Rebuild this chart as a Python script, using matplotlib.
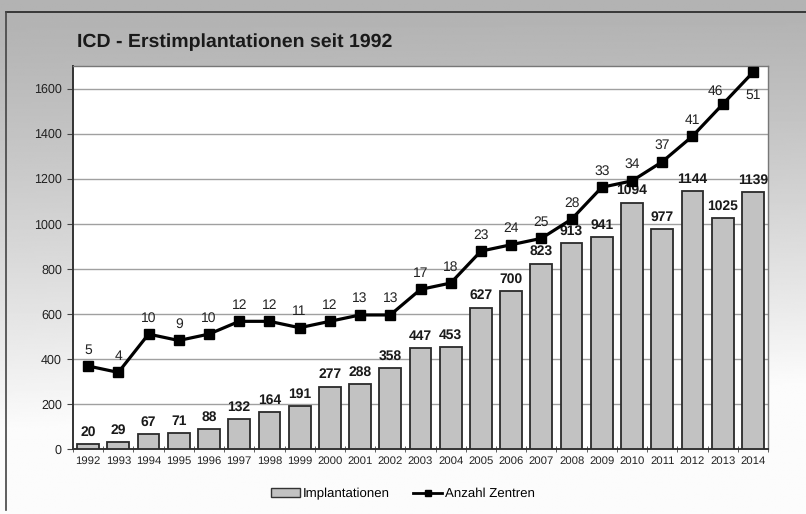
import numpy as np
import matplotlib
matplotlib.use("Agg")
import matplotlib.pyplot as plt
from matplotlib.lines import Line2D
from matplotlib.patches import Patch

years = ["1992", "1993", "1994", "1995", "1996", "1997", "1998", "1999", "2000",
         "2001", "2002", "2003", "2004", "2005", "2006", "2007", "2008", "2009",
         "2010", "2011", "2012", "2013", "2014"]
implantationen = [20, 29, 67, 71, 88, 132, 164, 191, 277, 288, 358, 447, 453,
                  627, 700, 823, 913, 941, 1094, 977, 1144, 1025, 1139]
zentren = [5, 4, 10, 9, 10, 12, 12, 11, 12, 13, 13, 17, 18, 23, 24, 25, 28, 33,
           34, 37, 41, 46, 51]
title = "ICD - Erstimplantationen seit 1992"
yticks = [0, 200, 400, 600, 800, 1000, 1200, 1400, 1600]

plt.rcParams['font.family'] = ['Liberation Sans', 'DejaVu Sans']
plt.rcParams['text.hinting'] = 'no_hinting'
plt.rcParams['text.kerning_factor'] = 0

W, H = 806, 514
fig = plt.figure(figsize=(W / 100, H / 100), dpi=100)
fig.patch.set_facecolor("white")

# background gradient
bg = fig.add_axes([0, 0, 1, 1], zorder=-10)
yy = np.linspace(0, 1, 300)[:, None]
xx = np.linspace(0, 1, 300)[None, :]
g = 0.70 + 0.30 * np.clip((yy - 0.02) / 0.85, 0, 1) ** 1.2 + 0.05 * xx * yy
g = np.clip(g, 0, 0.985)
bg.imshow(g, cmap="gray", vmin=0, vmax=1, aspect="auto", extent=[0, 1, 1, 0])
bg.plot([6 / W, 1], [12 / H, 12 / H], color="#222222", lw=1.2)
bg.plot([6 / W, 6 / W], [12 / H, 510 / H], color="#444444", lw=1.2)
bg.set_xlim(0, 1)
bg.set_ylim(1, 0)
bg.axis("off")

left, right, top, bottom = 73, 768, 66, 449
ax = fig.add_axes([left / W, 1 - bottom / H, (right - left) / W, (bottom - top) / H])
ax.set_facecolor("white")
x = np.arange(len(years))
ax.bar(x, implantationen, width=0.72, color="#c2c2c2", edgecolor="#2a2a2a",
       linewidth=1.3, zorder=3)
ax.set_xlim(-0.5, len(years) - 0.5)
ax.set_ylim(0, 1700)
ax.set_yticks(yticks)
ax.set_yticklabels([str(v) for v in yticks], fontsize=9, color="#222222")
ax.yaxis.grid(True, color="#a0a0a0", linewidth=1.0, zorder=0)
ax.set_axisbelow(True)
ax.set_xticks(x)
ax.set_xticklabels(years, fontsize=8.2, color="#222222")
ax.tick_params(axis="x", length=0, pad=5)
ax.set_xticks(np.arange(-0.5, len(years)), minor=True)
ax.tick_params(axis="x", which="minor", length=4, direction="inout", color="#444444")
ax.tick_params(axis="y", length=4, color="#444444", pad=4)
for s in ["left", "bottom"]:
    ax.spines[s].set_color("#333333")
    ax.spines[s].set_linewidth(1.4)
for s in ["top", "right"]:
    ax.spines[s].set_color("#777777")
    ax.spines[s].set_linewidth(1.0)

for xi, v in zip(x, implantationen):
    ax.annotate(str(v), (xi, v), xytext=(0, 4), textcoords="offset points",
                ha="center", va="bottom", fontsize=10, fontweight="bold",
                color="#1a1a1a", zorder=5)

ax2 = ax.twinx()
ax2.set_ylim(-8, 52)
ax2.plot(x, zentren, color="black", linewidth=2.3, marker="s", markersize=6.5,
         zorder=6)
ax2.axis("off")
for i, (xi, v) in enumerate(zip(x, zentren)):
    if i == len(zentren) - 1:
        off, va = (0, -12), "top"
    elif i == len(zentren) - 2:
        off, va = (-5, 5), "bottom"
    else:
        off, va = (0, 7), "bottom"
    ax2.annotate(str(v), (xi, v), xytext=off, textcoords="offset points",
                 ha="center", va=va, fontsize=10, color="#222222", zorder=7)

fig.text(77 / W, 1 - 42 / H, title, fontsize=14, fontweight="bold",
         color="#1a1a1a", ha="left", va="center")

handles = [Patch(facecolor="#c2c2c2", edgecolor="#333333", linewidth=1.0),
           Line2D([0], [0], color="black", lw=2, marker="s", markersize=5)]
fig.legend(handles, ["Implantationen", "Anzahl Zentren"], loc="center",
           bbox_to_anchor=(0.5, 1 - 494 / H), ncol=2, frameon=False,
           fontsize=9.5, handlelength=2.2, handletextpad=0.2, columnspacing=1.8)

fig.savefig("out.png", dpi=100)
